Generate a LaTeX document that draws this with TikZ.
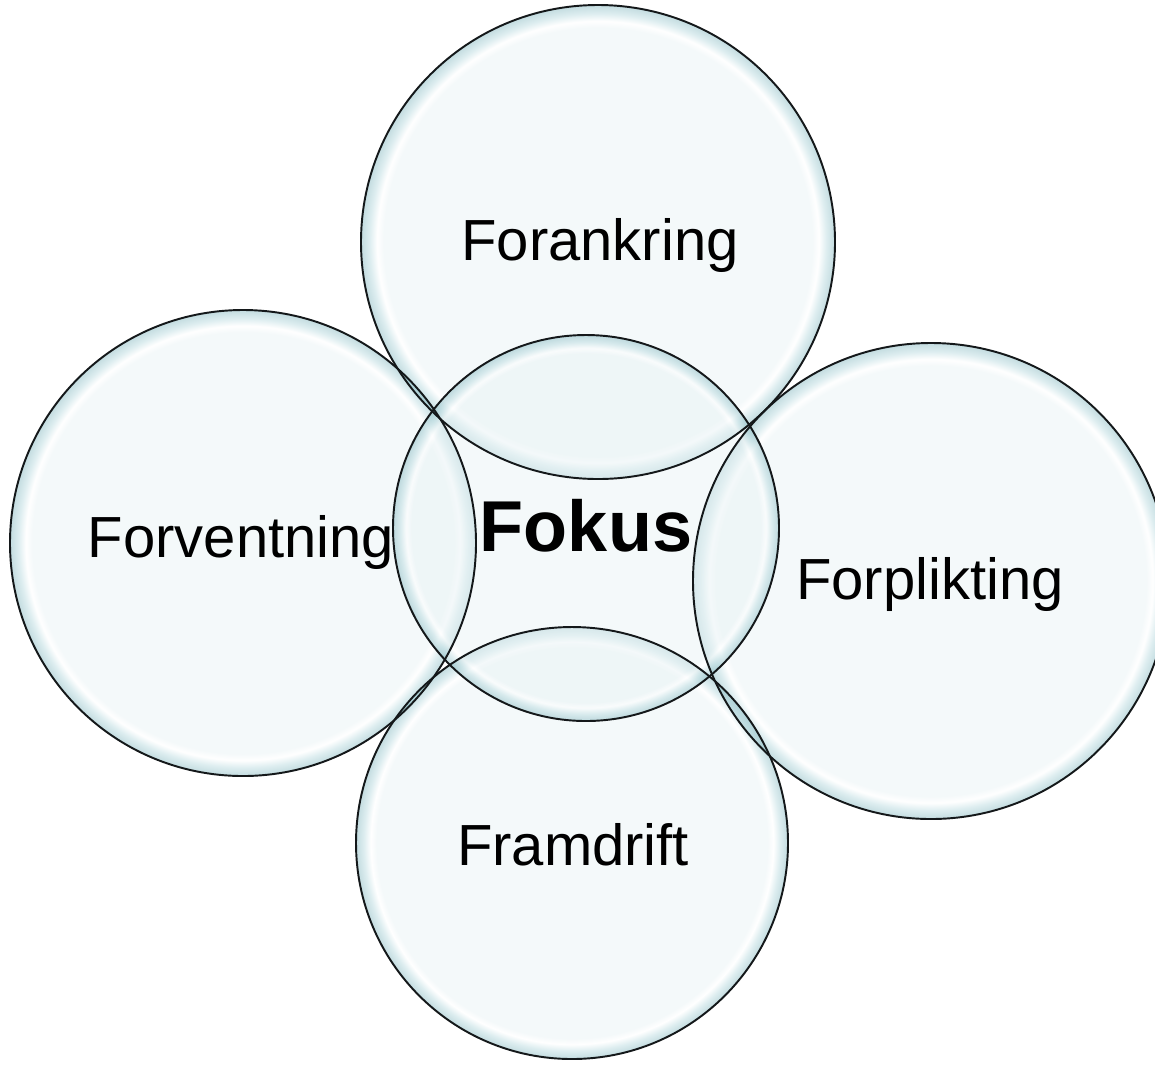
\documentclass[tikz,border=0pt]{standalone}
\usepackage{fontspec}
\setmainfont{Liberation Sans}
\usepackage{tikz}
\usetikzlibrary{positioning}
\definecolor{bubin}{RGB}{233,243,245}
\definecolor{bubrim}{RGB}{188,220,225}
\definecolor{bubedge}{RGB}{135,185,193}
\definecolor{bubline}{RGB}{20,24,26}
\pgfdeclareradialshading{bubble}{\pgfpoint{0bp}{0bp}}{%
  color(0bp)=(bubin); color(22.6bp)=(bubin); color(23.3bp)=(white);
  color(24.1bp)=(bubrim); color(25bp)=(bubedge); color(50bp)=(bubedge)}
\pgfdeclarelayer{glass}
\pgfsetlayers{glass,main}

% shaded body on the glass layer, outline on top
\newcommand{\bubble}[3]{%
  \begin{pgfonlayer}{glass}
    \node[bubblefill, minimum size=#3] at (#2) {};
  \end{pgfonlayer}
  \node[bubbleline, minimum size=#3] (#1) at (#2) {};
}

\begin{document}
\begin{tikzpicture}[
    bubblefill/.style={circle, shading=bubble, fill opacity=0.5, inner sep=0pt},
    bubbleline/.style={circle, draw=bubline, line width=1.1pt, inner sep=0pt},
    word/.style={anchor=base, font=\fontsize{33}{40}\selectfont},
]
    \useasboundingbox (0,0) rectangle (23.1,-21.32);

    % the five bubbles
    \bubble{top}{11.96,-4.84}{9.48cm}
    \bubble{left}{4.86,-10.86}{9.32cm}
    \bubble{right}{18.62,-11.62}{9.52cm}
    \bubble{bottom}{11.44,-16.86}{8.64cm}
    \bubble{centre}{11.72,-10.56}{7.72cm}

    % texts
    \node[word] (forankring) at (12.0,-5.2) {Forankring};
    \node[word] (forventning) at (4.82,-11.14) {Forventning};
    \node[word] (forplikting) at (18.6,-11.98) {Forplikting};
    \node[word] (framdrift) at (11.46,-17.3) {Framdrift};
    \node[word, font=\fontsize{41}{48}\selectfont\bfseries] (fokus) at (11.72,-11.02) {Fokus};
\end{tikzpicture}
\end{document}
